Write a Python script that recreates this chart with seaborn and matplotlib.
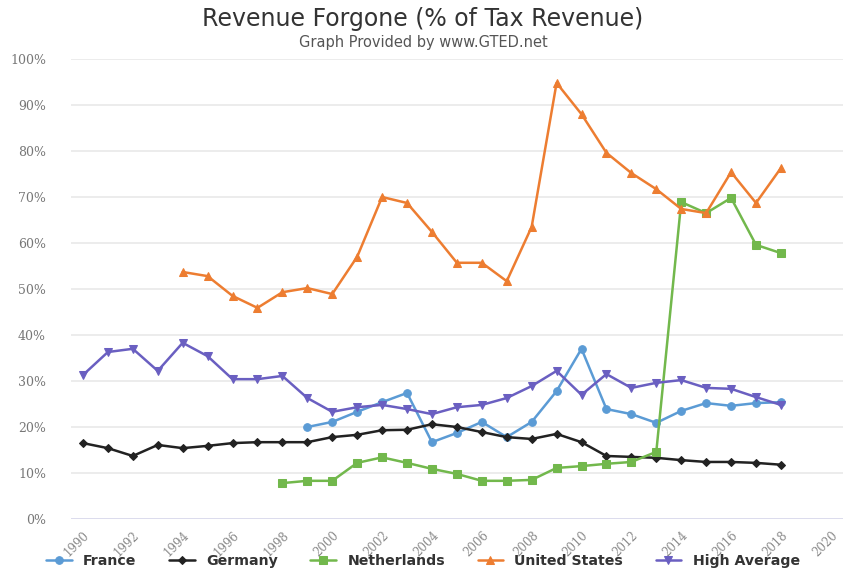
import numpy as np
import pandas as pd
import matplotlib
matplotlib.use("Agg")
import matplotlib.pyplot as plt
import seaborn as sns
from matplotlib.ticker import FuncFormatter, MultipleLocator

france_years = list(range(1999, 2019))
france = [20.0, 21.1, 23.3, 25.4, 27.4, 16.7, 18.7, 21.1, 17.8, 21.1,
          27.8, 37.0, 23.9, 22.8, 20.9, 23.5, 25.2, 24.6, 25.2, 25.4]

germany_years = list(range(1990, 2019))
germany = [16.5, 15.4, 13.7, 16.1, 15.4, 15.9, 16.5, 16.7, 16.7, 16.7,
           17.8, 18.3, 19.3, 19.4, 20.6, 20.0, 18.9, 17.8, 17.4, 18.5,
           16.7, 13.7, 13.5, 13.3, 12.8, 12.4, 12.4, 12.2, 11.8]

netherlands_years = list(range(1998, 2019))
netherlands = [7.8, 8.3, 8.3, 12.2, 13.4, 12.2, 10.9, 9.8, 8.3, 8.3,
               8.5, 11.1, 11.5, 12.0, 12.4, 14.6, 68.9, 66.5, 69.8, 59.6, 57.8]

us_years = list(range(1994, 2019))
us = [53.7, 52.8, 48.5, 45.9, 49.3, 50.2, 48.9, 57.0, 70.0, 68.7,
      62.4, 55.7, 55.7, 51.7, 63.5, 94.8, 88.0, 79.6, 75.2, 71.7,
      67.4, 66.5, 75.4, 68.7, 76.3]

high_avg_years = list(range(1990, 2019))
high_avg = [31.3, 36.3, 37.0, 32.2, 38.3, 35.4, 30.4, 30.4, 31.1, 26.3,
            23.3, 24.3, 24.8, 23.9, 22.8, 24.3, 24.8, 26.3, 28.9, 32.2,
            27.0, 31.5, 28.5, 29.6, 30.2, 28.5, 28.3, 26.5, 24.8]

series_names = ["France", "Germany", "Netherlands", "United States", "High Average"]
colors = ["#5B9BD5", "#222222", "#72B84C", "#ED7D31", "#6A5FC1"]
markers = ["o", "D", "s", "^", "v"]
x_ticks = list(range(1990, 2021, 2))

rows = []
for name, ys, vs in zip(series_names,
                        [france_years, germany_years, netherlands_years, us_years, high_avg_years],
                        [france, germany, netherlands, us, high_avg]):
    for y, v in zip(ys, vs):
        rows.append({"Year": y, "Value": v, "Series": name})
df = pd.DataFrame(rows)

sns.set_style("white")
plt.rcParams["font.family"] = ["DejaVu Sans"]

fig = plt.figure(figsize=(8.46, 5.70), dpi=100)
ax = fig.add_axes([71 / 846, 51 / 570, (843 - 71) / 846, (519 - 59) / 570])

sizes_map = {"France": 5.5, "Germany": 4.2, "Netherlands": 5.5, "United States": 5.5, "High Average": 5.5}
for name, col, mk in zip(series_names, colors, markers):
    sub = df[df["Series"] == name]
    sns.lineplot(data=sub, x="Year", y="Value", ax=ax, color=col, marker=mk,
                 markersize=sizes_map[name], markeredgecolor=col, linewidth=1.8,
                 label=name, legend=False, zorder=3)

ax.set_xlim(1989.52, 2020.49)
ax.set_ylim(0, 100)
ax.yaxis.set_major_locator(MultipleLocator(10))
ax.yaxis.set_major_formatter(FuncFormatter(lambda v, p: f"{int(v)}%"))
ax.set_xticks(x_ticks)
ax.set_xticklabels([str(t) for t in x_ticks], rotation=45, ha="right",
                   rotation_mode="anchor", family="DejaVu Serif", fontsize=8.5, color="#8a8a8a")
for lab in ax.get_yticklabels():
    lab.set_family("DejaVu Serif")
    lab.set_fontsize(9)
    lab.set_color("#777777")
ax.tick_params(axis="y", length=0, pad=18)
ax.tick_params(axis="x", length=0, pad=7)
ax.grid(axis="y", color="#ececec", linewidth=1.4)
ax.grid(axis="x", visible=False)
for s in ax.spines.values():
    s.set_visible(False)
ax.axhline(0, color="#dcdcee", linewidth=1.4, zorder=1)
ax.set_xlabel("")
ax.set_ylabel("")

fig.text(0.5, 1 - 19 / 570, "Revenue Forgone (% of Tax Revenue)", ha="center", va="center",
         fontsize=17, color="#333333", weight="medium")
fig.text(0.5, 1 - 42 / 570, "Graph Provided by www.GTED.net", ha="center", va="center",
         fontsize=10.5, color="#555555")

handles, labels = ax.get_legend_handles_labels()
leg = fig.legend(handles, labels, loc="center", bbox_to_anchor=(0.5, 1 - 561 / 570), ncol=5,
                 frameon=False, handlelength=1.8, columnspacing=2.3, borderpad=0.1,
                 prop={"weight": "bold", "size": 10.2})
for t in leg.get_texts():
    t.set_color("#333333")

fig.savefig("out.png", dpi=100)
